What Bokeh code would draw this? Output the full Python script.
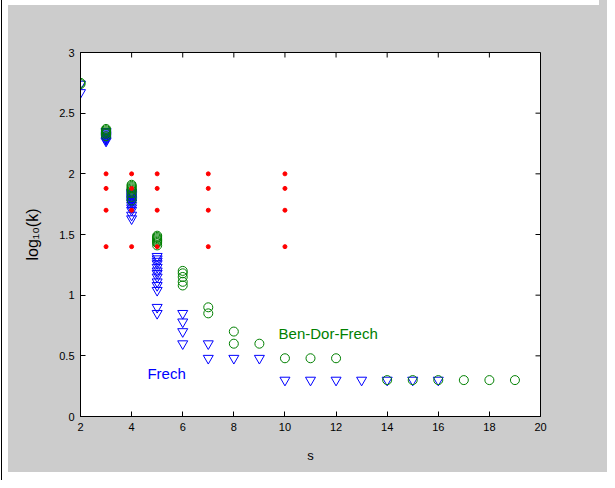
from bokeh.plotting import figure
from bokeh.models import Range1d, Label, FixedTicker, NumeralTickFormatter
from bokeh.embed import file_html
from bokeh.resources import INLINE

# ---- data ----
frech_s = [2, 2,
           3, 3, 3, 3, 3, 3, 3, 3, 3,
           4, 4, 4, 4, 4, 4, 4, 4, 4, 4, 4, 4, 4, 4, 4,
           5, 5, 5, 5, 5, 5, 5, 5, 5, 5, 5, 5, 5,
           6, 6, 6, 6,
           7, 7,
           8, 9,
           10, 11, 12, 13, 14, 15, 16]
frech_logk = [2.67, 2.74,
              2.27, 2.28, 2.29, 2.30, 2.31, 2.32, 2.33, 2.34, 2.35,
              1.63, 1.66, 1.70, 1.72, 1.74, 1.76, 1.77, 1.78, 1.79, 1.80, 1.81, 1.82, 1.83, 1.84, 1.85,
              0.85, 0.90, 1.04, 1.08, 1.11, 1.15, 1.18, 1.20, 1.23, 1.26, 1.28, 1.30, 1.32,
              0.60, 0.70, 0.78, 0.85,
              0.48, 0.60,
              0.48, 0.48,
              0.30, 0.30, 0.30, 0.30, 0.30, 0.30, 0.30]

bdf_s = [2, 2,
         3, 3, 3, 3, 3, 3,
         4, 4, 4, 4, 4, 4, 4, 4, 4,
         5, 5, 5, 5, 5, 5, 5, 5,
         6, 6, 6, 6, 6,
         7, 7,
         8, 8,
         9,
         10, 11, 12,
         14, 15, 16, 17, 18, 19]
bdf_logk = [2.74, 2.75,
            2.31, 2.33, 2.34, 2.35, 2.36, 2.37,
            1.78, 1.81, 1.84, 1.86, 1.87, 1.88, 1.89, 1.90, 1.91,
            1.41, 1.43, 1.44, 1.45, 1.46, 1.47, 1.48, 1.49,
            1.08, 1.11, 1.15, 1.18, 1.20,
            0.85, 0.90,
            0.60, 0.70,
            0.60,
            0.48, 0.48, 0.48,
            0.30, 0.30, 0.30, 0.30, 0.30, 0.30]

red_s = [3, 3, 3, 3, 4, 4, 4, 4, 5, 5, 5, 5, 7, 7, 7, 7, 10, 10, 10, 10]
red_logk = [1.40, 1.70, 1.88, 2.00] * 5

x_ticks = [2, 4, 6, 8, 10, 12, 14, 16, 18, 20]
y_ticks = [0, 0.5, 1, 1.5, 2, 2.5, 3]
X_MIN, X_MAX = 2, 20
Y_MIN, Y_MAX = 0, 3

GREEN = "#008000"
BLUE = "#0000ff"
RED = "#ff0000"
GRAY = "#cccccc"
FONT = "Liberation Sans"

p = figure(width=599, height=472, output_backend="svg", toolbar_location=None,
           x_range=Range1d(X_MIN, X_MAX), y_range=Range1d(Y_MIN, Y_MAX),
           min_border_left=80, min_border_right=59, min_border_top=52, min_border_bottom=56,
           background_fill_color="white", border_fill_color=None,
           outline_line_color="black", outline_line_width=1)

# page look: white margin with a thin black frame line, grey figure area
bg = ("linear-gradient(#000000,#000000) 1px 0px / 1px 100% no-repeat, "
      "linear-gradient(" + GRAY + "," + GRAY + ") 8px 5px / 591px 467px no-repeat, #ffffff")
sh = ("8px 0 0 0 " + GRAY + ", 1px -2px 0 0 #ffffff, 8px -2px 0 0 #ffffff, "
      "1px -3px 0 0 #000000, 8px -3px 0 0 #000000, "
      "2px 8px 0 0 #ffffff, 1px 8px 0 0 #000000")
p.styles = {"background": bg, "box-shadow": sh}

p.xgrid.visible = False
p.ygrid.visible = False

xb = p.xaxis[0]
yl = p.yaxis[0]
xb.ticker = FixedTicker(ticks=x_ticks)
yl.ticker = FixedTicker(ticks=y_ticks)
yl.formatter = NumeralTickFormatter(format="0.[0]")

for ax in [xb, yl]:
    ax.major_tick_in = 5
    ax.major_tick_out = 0
    ax.minor_tick_line_color = None
    ax.axis_line_color = "black"
    ax.major_tick_line_color = "black"
    ax.major_label_text_font = FONT
    ax.major_label_text_color = "black"
    ax.major_label_text_font_size = "11px"
    ax.major_label_standoff = 6
    ax.axis_label_text_font = FONT
    ax.axis_label_text_font_style = "normal"
    ax.axis_label_text_color = "black"

xb.axis_label = "s"
xb.axis_label_text_font_size = "13px"
xb.axis_label_standoff = 14
yl.axis_label = "log\u2081\u2080(k)"
yl.axis_label_text_font_size = "16px"
yl.axis_label_standoff = 15

# inward ticks on the top and right edges of the box
tx = 5 / 121.33
ty = 5 / 25.556
p.segment(x0=x_ticks, y0=[Y_MAX] * len(x_ticks), x1=x_ticks, y1=[Y_MAX - tx] * len(x_ticks),
          line_color="black", line_width=1)
p.segment(x0=[X_MAX] * len(y_ticks), y0=y_ticks, x1=[X_MAX - ty] * len(y_ticks), y1=y_ticks,
          line_color="black", line_width=1)

# series
p.scatter(frech_s, frech_logk, marker="inverted_triangle", size=10,
          fill_color=None, line_color=BLUE, line_width=1)
p.scatter(bdf_s, bdf_logk, marker="circle", size=9,
          fill_color=None, line_color=GREEN, line_width=1)
p.scatter(red_s, red_logk, marker="circle", size=4,
          fill_color=RED, line_color=RED)

p.add_layout(Label(x=9.75, y=0.684, text="Ben-Dor-Frech", text_color=GREEN,
                   text_font=FONT, text_font_size="15px", text_baseline="middle", text_align="left"))
p.add_layout(Label(x=4.62, y=0.354, text="Frech", text_color=BLUE,
                   text_font=FONT, text_font_size="15px", text_baseline="middle", text_align="left"))

open("out.html", "w").write(file_html(p, INLINE))
